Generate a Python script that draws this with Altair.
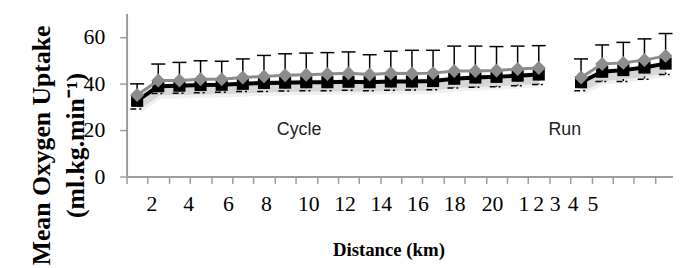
import altair as alt
import pandas as pd

# ---------------- data ----------------
cycle_km = list(range(1, 21))
run_km = list(range(1, 6))

grey_mean_cycle = [35.0, 41.2, 41.2, 41.8, 41.8, 42.5, 43.0, 43.5, 43.7, 44.0,
                   44.3, 43.8, 44.3, 44.2, 44.4, 45.3, 45.3, 45.5, 46.2, 46.6]
grey_high_cycle = [39.8, 48.3, 49.0, 49.7, 49.5, 50.5, 52.0, 52.7, 53.0, 53.2,
                   53.5, 52.3, 53.8, 54.2, 54.2, 56.0, 56.0, 55.8, 56.0, 56.2]
grey_mean_run = [42.5, 48.3, 48.8, 50.0, 51.8]
grey_high_run = [50.5, 56.5, 57.6, 59.1, 61.4]

black_mean_cycle = [32.5, 38.8, 39.0, 39.3, 39.4, 39.8, 40.2, 40.3, 40.5, 40.5,
                    40.7, 40.5, 40.8, 40.8, 41.0, 42.0, 42.5, 42.8, 43.3, 43.8]
black_low_cycle = [29.0, 35.7, 35.8, 36.0, 36.2, 36.5, 36.5, 36.7, 36.8, 36.8,
                   37.0, 36.8, 37.0, 37.2, 37.3, 38.0, 38.3, 38.5, 39.0, 39.5]
black_mean_run = [40.5, 45.0, 45.7, 46.8, 48.5]
black_low_run = [36.8, 40.8, 40.8, 41.8, 43.8]

x_tick_labels = ["2", "4", "6", "8", "10", "12", "14", "16", "18", "20",
                 "1", "2", "3", "4", "5"]
x_label_pos = [1.67, 3.41, 5.3, 7.09, 9.1, 10.81, 12.53, 14.26, 16.0, 17.79,
               19.27, 19.97, 20.75, 21.6, 22.54]
x_boundaries = [i + 0.5 for i in range(26)]

phase_names = ["Cycle", "Run"]
phase_label_x = [8.66, 21.23]
phase_label_y = [20, 20]

# ---------------- tables ----------------
rows = []
for phase, kms, offset, gm, gh, bm, bl in [
    ("Cycle", cycle_km, 0, grey_mean_cycle, grey_high_cycle, black_mean_cycle, black_low_cycle),
    ("Run", run_km, 21, grey_mean_run, grey_high_run, black_mean_run, black_low_run),
]:
    for i, km in enumerate(kms):
        rows.append({"pos": km + offset, "phase": phase, "series": "grey", "mean": gm[i], "end": gh[i]})
        rows.append({"pos": km + offset, "phase": phase, "series": "black", "mean": bm[i], "end": bl[i]})
df = pd.DataFrame(rows)

annot = pd.DataFrame({"name": phase_names, "x": phase_label_x, "y": phase_label_y})

# ---------------- scales / axes ----------------
AXIS_GREY = "#9c9c9c"
SERIF = "Liberation Serif"
xscale = alt.Scale(domain=[0.5, 26.35], nice=False, zero=False)
yscale = alt.Scale(domain=[0, 70], nice=False)

yaxis = alt.Axis(
    orient="left",
    values=[0, 20, 40, 60], grid=False,
    domainColor=AXIS_GREY, domainWidth=2, tickColor=AXIS_GREY, tickWidth=1.5, tickSize=7,
    labelPadding=15, labelFont=SERIF, labelFontSize=22, labelColor="black",
    title=["Mean Oxygen Uptake", "(ml.kg.min\u207b\u00b9)"],
    titleFont=SERIF, titleFontSize=26, titleFontWeight="bold", titleColor="black",
    titleLineHeight=35, titleAngle=270, titleAlign="center", titleBaseline="middle",
    titleX=-86.5, titleY=133,
)

tick_axis = alt.Axis(
    orient="bottom",
    values=x_boundaries, labels=False, grid=False, title=None,
    domainColor=AXIS_GREY, domainWidth=2, tickColor=AXIS_GREY, tickWidth=1.5, tickSize=7,
)

pos_js = "[" + ",".join(str(v) for v in x_label_pos) + "]"
txt_js = "[" + ",".join("'" + t + "'" for t in x_tick_labels) + "]"
label_axis = alt.Axis(
    orient="bottom",
    values=x_label_pos, domain=False, ticks=False, tickSize=0, grid=False,
    labelExpr=f"{txt_js}[indexof({pos_js}, datum.value)]",
    labelPadding=17, labelFont=SERIF, labelFontSize=22, labelColor="black",
    labelAngle=0, labelOverlap=False, labelFlush=False,
    title="Distance (km)", titleFont=SERIF, titleFontSize=19,
    titleFontWeight="bold", titleColor="black", titleAlign="center", titleBaseline="middle",
    titleX=265, titleY=74,
)

base = alt.Chart(df)
black = base.transform_filter("datum.series == 'black'")
grey = base.transform_filter("datum.series == 'grey'")

X_plain = alt.X("pos:Q", scale=xscale, axis=None)
Y_mean = alt.Y("mean:Q", scale=yscale, axis=yaxis)

# soft drop shadow under the lines (as in the spreadsheet original)
shadow_wide = black.mark_line(color="black", opacity=0.06, strokeWidth=16, yOffset=5).encode(
    x=alt.X("pos:Q", scale=xscale, axis=tick_axis), y=Y_mean, detail="phase:N")
shadow_core = black.mark_line(color="black", opacity=0.10, strokeWidth=9, yOffset=5).encode(
    x=X_plain, y=Y_mean, detail="phase:N")

# black series: lower error bars (dash-dot), line, squares
err_black = black.mark_rule(color="black", strokeWidth=1.5, strokeDash=[6, 3, 2, 3]).encode(
    x=X_plain, y=Y_mean, y2="end:Q")
cap_black = black.transform_calculate(c0="datum.pos - 0.32", c1="datum.pos + 0.32").mark_rule(
    color="black", strokeWidth=1.5, strokeDash=[6, 3, 2, 3]).encode(
    x=alt.X("c0:Q", scale=xscale, axis=None), x2="c1:Q",
    y=alt.Y("end:Q", scale=yscale, axis=yaxis))
line_black = black.mark_line(color="black", strokeWidth=4).encode(x=X_plain, y=Y_mean, detail="phase:N")
pts_black = black.mark_point(shape="square", filled=True, size=150, color="black", opacity=1).encode(
    x=X_plain, y=Y_mean)

# grey series: upper error bars, line, diamonds
err_grey = grey.mark_rule(color="black", strokeWidth=1.5).encode(x=X_plain, y=Y_mean, y2="end:Q")
cap_grey = grey.transform_calculate(c0="datum.pos - 0.33", c1="datum.pos + 0.33").mark_rule(
    color="black", strokeWidth=1.5).encode(
    x=alt.X("c0:Q", scale=xscale, axis=None), x2="c1:Q",
    y=alt.Y("end:Q", scale=yscale, axis=yaxis))
line_grey = grey.mark_line(color="#8c8c8c", strokeWidth=3).encode(
    x=alt.X("pos:Q", scale=xscale, axis=label_axis), y=Y_mean, detail="phase:N")
pts_grey = grey.mark_point(shape="diamond", filled=True, size=200, color="#8c8c8c", opacity=1).encode(
    x=X_plain, y=Y_mean)

text = alt.Chart(annot).mark_text(
    font="Liberation Sans", fontSize=18, color="#222222", baseline="middle", align="center").encode(
    x=alt.X("x:Q", scale=xscale, axis=None),
    y=alt.Y("y:Q", scale=yscale, axis=yaxis),
    text="name:N")

chart = alt.layer(
    shadow_wide, shadow_core,
    err_black, cap_black, line_black, pts_black,
    err_grey, cap_grey, line_grey, pts_grey, text,
).resolve_axis(x="independent").properties(
    width=553, height=165,
    autosize=alt.AutoSizeParams(type="none"),
    padding={"left": 120, "top": 4, "right": 0, "bottom": 91},
).configure_view(stroke=None).configure_axis(
    labelFont=SERIF, titleFont=SERIF, labelColor="black", titleColor="black",
)

chart.save("out.html", embed_options={"renderer": "svg", "actions": False})
